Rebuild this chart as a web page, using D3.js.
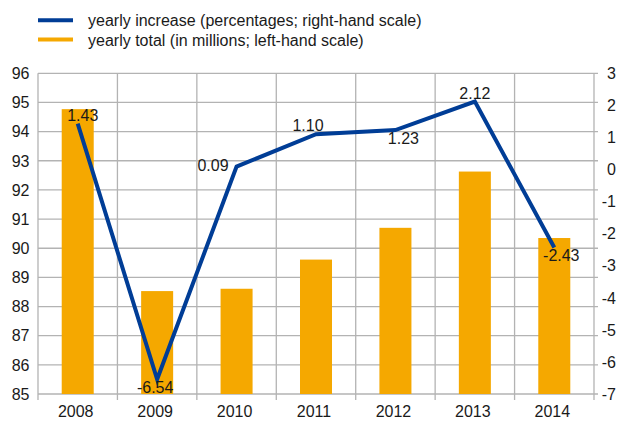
<!DOCTYPE html>
<html>
<head>
<meta charset="utf-8">
<script src="https://cdn.jsdelivr.net/npm/d3@7"></script>
<style>
  html, body { margin: 0; padding: 0; background: #fff; }
  svg { display: block; font-family: "Liberation Sans", Arial, sans-serif; }
</style>
</head>
<body>
<svg id="chart" width="624" height="425"></svg>
<script>
// ---- data ----
const years = ["2008", "2009", "2010", "2011", "2012", "2013", "2014"];
const yearlyTotal = [94.77, 88.53, 88.61, 89.61, 90.70, 92.63, 90.35];      // millions, left scale
const yearlyIncrease = [1.43, -6.54, 0.09, 1.10, 1.23, 2.12, -2.43];       // percent, right scale
const increaseLabels = ["1.43", "-6.54", "0.09", "1.10", "1.23", "2.12", "-2.43"];
const leftTicks = [85, 86, 87, 88, 89, 90, 91, 92, 93, 94, 95, 96];
const rightTicks = [-7, -6, -5, -4, -3, -2, -1, 0, 1, 2, 3];
const legendLabels = ["yearly increase (percentages; right-hand scale)", "yearly total (in millions; left-hand scale)"];

// ---- style (label placement relative to the point) ----
const labelPlacement = ["above", "below", "left", "above", "below", "above", "below"];
const labelShift = [5, -2, 0, -8, 8, 0, 7];

const BLUE = "#003d96", ORANGE = "#f5a800", GRID = "#b3b3b3", TEXT = "#1a1a1a";

const svg = d3.select("#chart");
const L = 38, R = 594, T = 73.3, B = 394;

const x = d3.scaleBand().domain(years).range([L, R]).padding(0);
const yL = d3.scaleLinear().domain([85, 96]).range([B, T]);
const yR = d3.scaleLinear().domain([-7, 3]).range([B, T]);

// horizontal gridlines
svg.append("g").selectAll("line").data(leftTicks).join("line")
  .attr("x1", L).attr("x2", R + 4)
  .attr("y1", d => yL(d)).attr("y2", d => yL(d))
  .attr("stroke", GRID).attr("stroke-width", 1.3);

// vertical gridlines at band boundaries
const bounds = years.map(d => x(d)).concat([R]);
svg.append("g").selectAll("line").data(bounds).join("line")
  .attr("x1", d => d).attr("x2", d => d)
  .attr("y1", T).attr("y2", B + 6)
  .attr("stroke", GRID).attr("stroke-width", 1.3);

// bars
const bw = x.bandwidth() * 0.403;
svg.append("g").selectAll("rect").data(years).join("rect")
  .attr("x", d => x(d) + x.bandwidth() / 2 - bw / 2)
  .attr("width", bw)
  .attr("y", (d, i) => yL(yearlyTotal[i]))
  .attr("height", (d, i) => yL(85) - yL(yearlyTotal[i]))
  .attr("fill", ORANGE);

// line
const line = d3.line()
  .x((d, i) => x(years[i]) + x.bandwidth() / 2)
  .y(d => yR(d));
svg.append("path").datum(yearlyIncrease)
  .attr("d", line)
  .attr("fill", "none").attr("stroke", BLUE).attr("stroke-width", 4)
  .attr("stroke-linejoin", "miter");

// data labels
svg.append("g").selectAll("text").data(yearlyIncrease).join("text")
  .attr("font-size", 16).attr("fill", TEXT)
  .each(function (d, i) {
    const px = x(years[i]) + x.bandwidth() / 2, py = yR(d);
    const t = d3.select(this).text(increaseLabels[i]);
    const p = labelPlacement[i];
    if (p === "above") {
      t.attr("x", px + labelShift[i]).attr("y", py - 3).attr("text-anchor", "middle");
    } else if (p === "below") {
      t.attr("x", px + labelShift[i]).attr("y", py + 14).attr("text-anchor", "middle");
    } else {
      t.attr("x", px - 8).attr("y", py + 4).attr("text-anchor", "end");
    }
  });

// left axis labels
svg.append("g").selectAll("text").data(leftTicks).join("text")
  .attr("x", 29.5).attr("y", d => yL(d)).attr("dy", "0.36em")
  .attr("text-anchor", "end").attr("font-size", 16).attr("fill", TEXT)
  .text(d => d);

// right axis labels
svg.append("g").selectAll("text").data(rightTicks).join("text")
  .attr("x", 616).attr("y", d => yR(d)).attr("dy", "0.36em")
  .attr("text-anchor", "end").attr("font-size", 16).attr("fill", TEXT)
  .text(d => d);

// x labels
svg.append("g").selectAll("text").data(years).join("text")
  .attr("x", d => x(d) + x.bandwidth() / 2 - 2).attr("y", 417)
  .attr("text-anchor", "middle").attr("font-size", 16).attr("fill", TEXT)
  .text(d => d);

// legend
const legColors = [BLUE, ORANGE];
const leg = svg.append("g");
legendLabels.forEach((lab, i) => {
  const cy = 20.3 + i * 19.2;
  leg.append("line").attr("x1", 38).attr("x2", 73).attr("y1", cy).attr("y2", cy)
    .attr("stroke", legColors[i]).attr("stroke-width", 4);
  leg.append("text").attr("x", 88).attr("y", cy + 6).attr("font-size", 16).attr("fill", TEXT)
    .text(lab);
});
</script>
</body>
</html>
